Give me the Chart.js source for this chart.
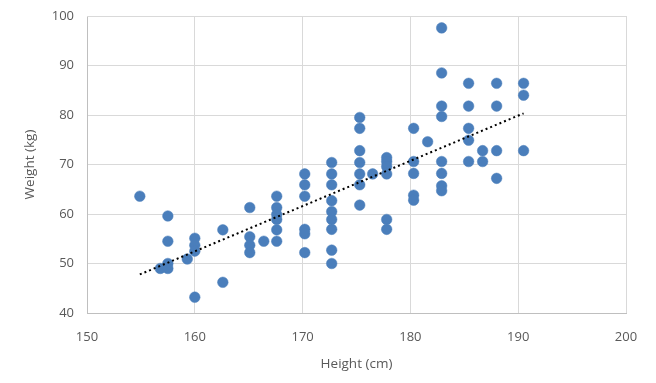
<!DOCTYPE html>
<html>
<head>
<meta charset="utf-8">
<script src="https://cdn.jsdelivr.net/npm/chart.js@4"></script>
<style>
  html, body { margin: 0; padding: 0; background: #ffffff; }
  #wrap { width: 656px; height: 383px; }
</style>
</head>
<body>
<div id="wrap"><canvas id="c" width="656" height="383"></canvas></div>
<script>
// Heights (cm) and weights (kg)
const heights = [
  154.9,
  156.8,
  157.5, 157.5, 157.5, 157.5,
  159.3,
  160.0, 160.0, 160.0, 160.0,
  162.6, 162.6,
  165.1, 165.1, 165.1, 165.1,
  166.4,
  167.6, 167.6, 167.6, 167.6, 167.6, 167.6,
  170.2, 170.2, 170.2, 170.2, 170.2, 170.2,
  172.7, 172.7, 172.7, 172.7, 172.7, 172.7, 172.7, 172.7, 172.7,
  175.3, 175.3, 175.3, 175.3, 175.3, 175.3, 175.3,
  176.5,
  177.8, 177.8, 177.8, 177.8, 177.8, 177.8,
  180.3, 180.3, 180.3, 180.3, 180.3,
  181.6,
  182.9, 182.9, 182.9, 182.9, 182.9, 182.9, 182.9, 182.9,
  185.4, 185.4, 185.4, 185.4, 185.4,
  186.7, 186.7,
  188.0, 188.0, 188.0, 188.0,
  190.5, 190.5, 190.5
];
const weights = [
  63.6,
  49.0,
  59.6, 54.5, 50.0, 49.0,
  50.9,
  55.1, 53.7, 52.5, 43.2,
  56.8, 46.2,
  61.3, 55.4, 53.7, 52.2,
  54.5,
  63.6, 61.3, 59.9, 58.9, 56.8, 54.5,
  68.1, 65.9, 63.6, 56.9, 56.0, 52.2,
  70.4, 68.1, 65.9, 62.7, 60.5, 58.9, 56.9, 52.7, 50.0,
  79.5, 77.3, 72.8, 70.4, 68.1, 65.9, 61.8,
  68.1,
  71.4, 70.6, 69.6, 68.1, 58.9, 56.9,
  77.3, 70.6, 68.2, 63.8, 62.8,
  74.6,
  97.6, 88.5, 81.8, 79.7, 70.6, 68.2, 65.7, 64.7,
  86.4, 81.8, 77.3, 74.9, 70.6,
  72.8, 70.6,
  86.4, 81.8, 72.8, 67.2,
  86.4, 84.0, 72.8
];
const xTicks = [150, 160, 170, 180, 190, 200];
const yTicks = [40, 50, 60, 70, 80, 90, 100];
const xTitle = 'Height (cm)';
const yTitle = 'Weight (kg)';

// Linear trend line (least squares) computed from the data
const n = heights.length;
const mx = heights.reduce((a, b) => a + b, 0) / n;
const my = weights.reduce((a, b) => a + b, 0) / n;
let sxy = 0, sxx = 0;
for (let i = 0; i < n; i++) {
  sxy += (heights[i] - mx) * (weights[i] - my);
  sxx += (heights[i] - mx) * (heights[i] - mx);
}
const slope = sxy / sxx;
const intercept = my - slope * mx;
const xMin = Math.min(...heights), xMax = Math.max(...heights);
const trend = [
  { x: xMin, y: intercept + slope * xMin },
  { x: xMax, y: intercept + slope * xMax }
];

const points = heights.map((h, i) => ({ x: h, y: weights[i] }));

const FONT = "'Open Sans', 'Liberation Sans', sans-serif";
const TXT = '#595959';

new Chart(document.getElementById('c'), {
  type: 'scatter',
  data: {
    datasets: [
      {
        data: trend,
        showLine: true,
        borderColor: '#000000',
        borderWidth: 2,
        borderDash: [2, 3],
        pointRadius: 0,
        fill: false,
        order: 0
      },
      {
        data: points,
        backgroundColor: '#4a7ebb',
        borderColor: '#4a7ebb',
        borderWidth: 0.5,
        pointRadius: 5.3,
        pointHoverRadius: 5.3,
        order: 1
      }
    ]
  },
  options: {
    responsive: false,
    animation: false,
    events: [],
    layout: { padding: { left: 0, right: 30, top: 16, bottom: 0 } },
    plugins: {
      legend: { display: false },
      tooltip: { enabled: false }
    },
    scales: {
      x: {
        type: 'linear',
        min: xTicks[0],
        max: xTicks[xTicks.length - 1],
        afterBuildTicks: (ax) => { ax.ticks = xTicks.map(v => ({ value: v })); },
        afterFit: (ax) => { ax.height = 70; ax.paddingLeft = 0; ax.paddingRight = 0; },
        grid: { color: '#d9d9d9', lineWidth: 1, drawTicks: false },
        border: { display: true, color: '#bfbfbf', width: 1 },
        ticks: { color: TXT, font: { family: FONT, size: 13 }, padding: 16 },
        title: { display: true, text: xTitle, color: TXT, font: { family: FONT, size: 13.5 }, padding: { top: 4, bottom: 11 } }
      },
      y: {
        type: 'linear',
        min: yTicks[0],
        max: yTicks[yTicks.length - 1],
        afterBuildTicks: (ax) => { ax.ticks = yTicks.map(v => ({ value: v })); },
        afterFit: (ax) => { ax.width = 87; ax.paddingTop = 0; ax.paddingBottom = 0; },
        grid: { color: '#d9d9d9', lineWidth: 1, drawTicks: false },
        border: { display: true, color: '#bfbfbf', width: 1 },
        ticks: { color: TXT, font: { family: FONT, size: 13 }, padding: 13 },
        title: { display: true, text: yTitle, color: TXT, font: { family: FONT, size: 13.5 }, padding: { top: 22, bottom: 0 } }
      }
    }
  },
  plugins: [{
    id: 'frame',
    afterDraw(chart) {
      const { ctx, chartArea: a } = chart;
      ctx.save();
      ctx.strokeStyle = '#d9d9d9';
      ctx.lineWidth = 1;
      ctx.beginPath();
      ctx.moveTo(a.left, a.top + 0.5);
      ctx.lineTo(a.right + 0.5, a.top + 0.5);
      ctx.lineTo(a.right + 0.5, a.bottom);
      ctx.stroke();
      ctx.restore();
    }
  }]
});
</script>
</body>
</html>
